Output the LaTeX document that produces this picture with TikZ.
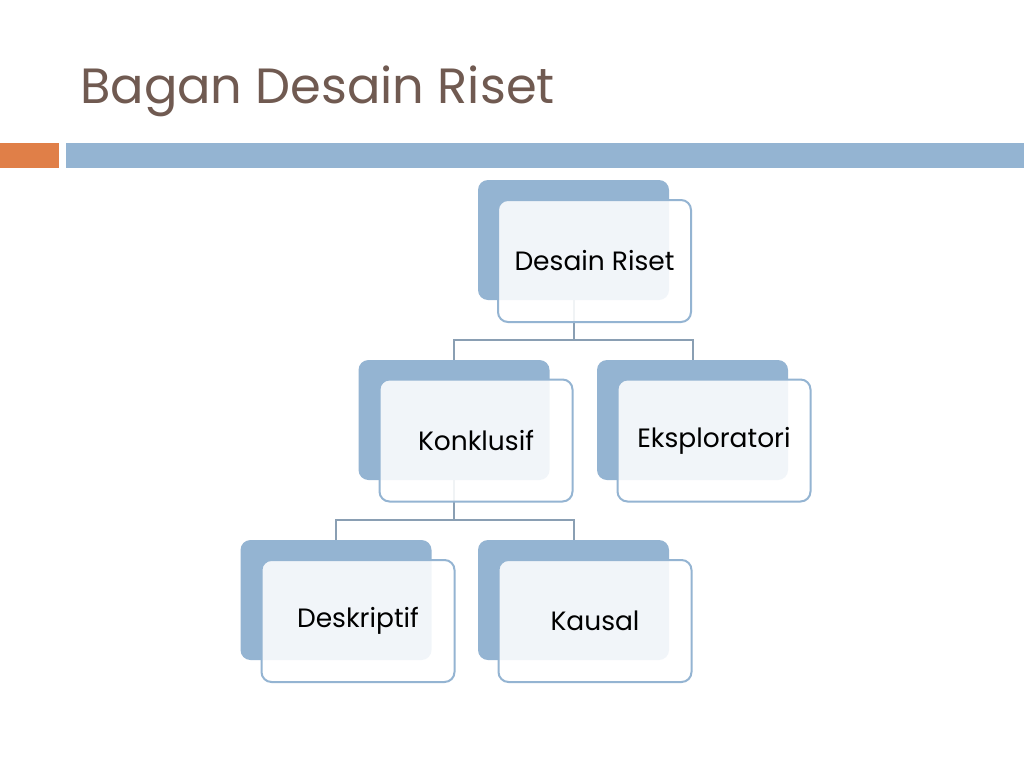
\documentclass[tikz,border=0pt]{standalone}
\usepackage{fontspec}
\setmainfont{Poppins}
\definecolor{titlebrown}{HTML}{705A51}
\definecolor{barorange}{HTML}{E07F48}
\definecolor{barblue}{HTML}{94B4D2}
\definecolor{linegray}{HTML}{8A9FB3}
\begin{document}
\begin{tikzpicture}[x=1pt,y=-1pt,
  backbox/.style={fill=barblue, draw=none, rounded corners=10pt, minimum width=191pt, minimum height=120pt, inner sep=0pt},
  frontbox/.style={fill=white, fill opacity=0.88, text opacity=1, draw=barblue, line width=2pt, rounded corners=10pt, minimum width=193pt, minimum height=122pt, inner sep=0pt, font=\fontsize{26.5}{30}\selectfont, text=black},
  conn/.style={draw=linegray, line width=2pt}]
\useasboundingbox (0,0) rectangle (1024,768);
\fill[white] (0,0) rectangle (1024,768);
\node[anchor=base west, text=titlebrown, font=\fontsize{49.5}{56}\selectfont, inner sep=0pt] (title) at (80,103) {Bagan Desain Riset};
\fill[barorange] (0,143) rectangle (59,168);
\fill[barblue] (66,143) rectangle (1024,168);
% back boxes
\node[backbox] (rb) at (573.5,240) {};
\node[backbox] (kb) at (454,420) {};
\node[backbox] (eb) at (692.5,420) {};
\node[backbox] (db) at (336,600) {};
\node[backbox] (cb) at (573.5,600) {};
% connectors
\path (rb.south) ++(0,40) coordinate (j1);
\path (kb.south) ++(0,40) coordinate (j2);
\draw[conn] (rb.south) -- (j1) -| (kb.north);
\draw[conn] (j1) -| (eb.north);
\draw[conn] (kb.south) -- (j2) -| (db.north);
\draw[conn] (j2) -| (cb.north);
% front boxes
\node[frontbox] (rf) at (594.5,261) {Desain Riset};
\node[frontbox] (kf) at (476,440.5) {Konklusif};
\node[frontbox] (ef) at (714,440.5) {Eksploratori};
\node[frontbox] (df) at (358,621) {Deskriptif};
\node[frontbox] (cf) at (595,621) {Kausal};
\end{tikzpicture}
\end{document}
